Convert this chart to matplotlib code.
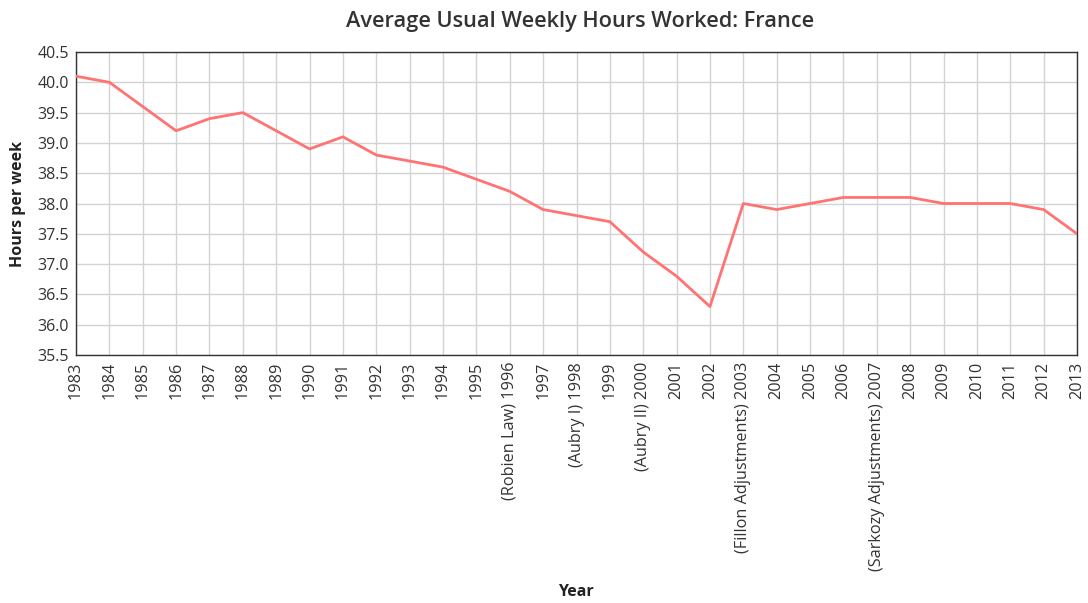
import matplotlib
matplotlib.use("Agg")
import matplotlib.pyplot as plt

plt.rcParams['font.family'] = ['Open Sans', 'DejaVu Sans']

years = list(range(1983, 2014))
hours = [40.1, 40.0, 39.6, 39.2, 39.4, 39.5, 39.2, 38.9, 39.1, 38.8,
         38.7, 38.6, 38.4, 38.2, 37.9, 37.8, 37.7, 37.2, 36.8, 36.3,
         38.0, 37.9, 38.0, 38.1, 38.1, 38.1, 38.0, 38.0, 38.0, 37.9, 37.5]
notes = {1996: '(Robien Law)', 1998: '(Aubry I)', 2000: '(Aubry II)',
         2003: '(Fillon Adjustments)', 2007: '(Sarkozy Adjustments)'}
yticks = [35.5, 36.0, 36.5, 37.0, 37.5, 38.0, 38.5, 39.0, 39.5, 40.0, 40.5]

fig = plt.figure(figsize=(10.88, 6.03), dpi=100)
W, H = 1088, 603
ax = fig.add_axes([76 / W, 1 - 355 / H, (1077 - 76) / W, (355 - 52) / H])

ax.plot(years, hours, color='#ff7373', lw=2, zorder=3)

ax.set_xlim(years[0], years[-1])
ax.set_ylim(35.5, 40.5)
ax.set_yticks(yticks)
ax.set_yticklabels(['%.1f' % v for v in yticks], fontsize=11.5, color='#333333')
ax.set_xticks(years)
labels = [(notes[y] + ' ' + str(y)) if y in notes else str(y) for y in years]
ax.set_xticklabels(labels, rotation=90, fontsize=11.7, color='#333333')
ax.tick_params(length=0, pad=5)
ax.grid(True, color='#d3d3d3', lw=1)
ax.set_axisbelow(True)
for s in ax.spines.values():
    s.set_color('#333333')
    s.set_linewidth(1)

fig.text(580 / W, 1 - 21 / H, 'Average Usual Weekly Hours Worked: France', fontsize=15.7,
         fontweight='semibold', color='#333333', ha='center', va='center')
ax.set_ylabel('Hours per week', fontsize=11.5, fontweight='bold', color='#222222', labelpad=8)
fig.text(576 / W, 1 - 592 / H, 'Year', fontsize=11.5, fontweight='bold',
         color='#222222', ha='center', va='center')

fig.savefig('out.png', dpi=100)
